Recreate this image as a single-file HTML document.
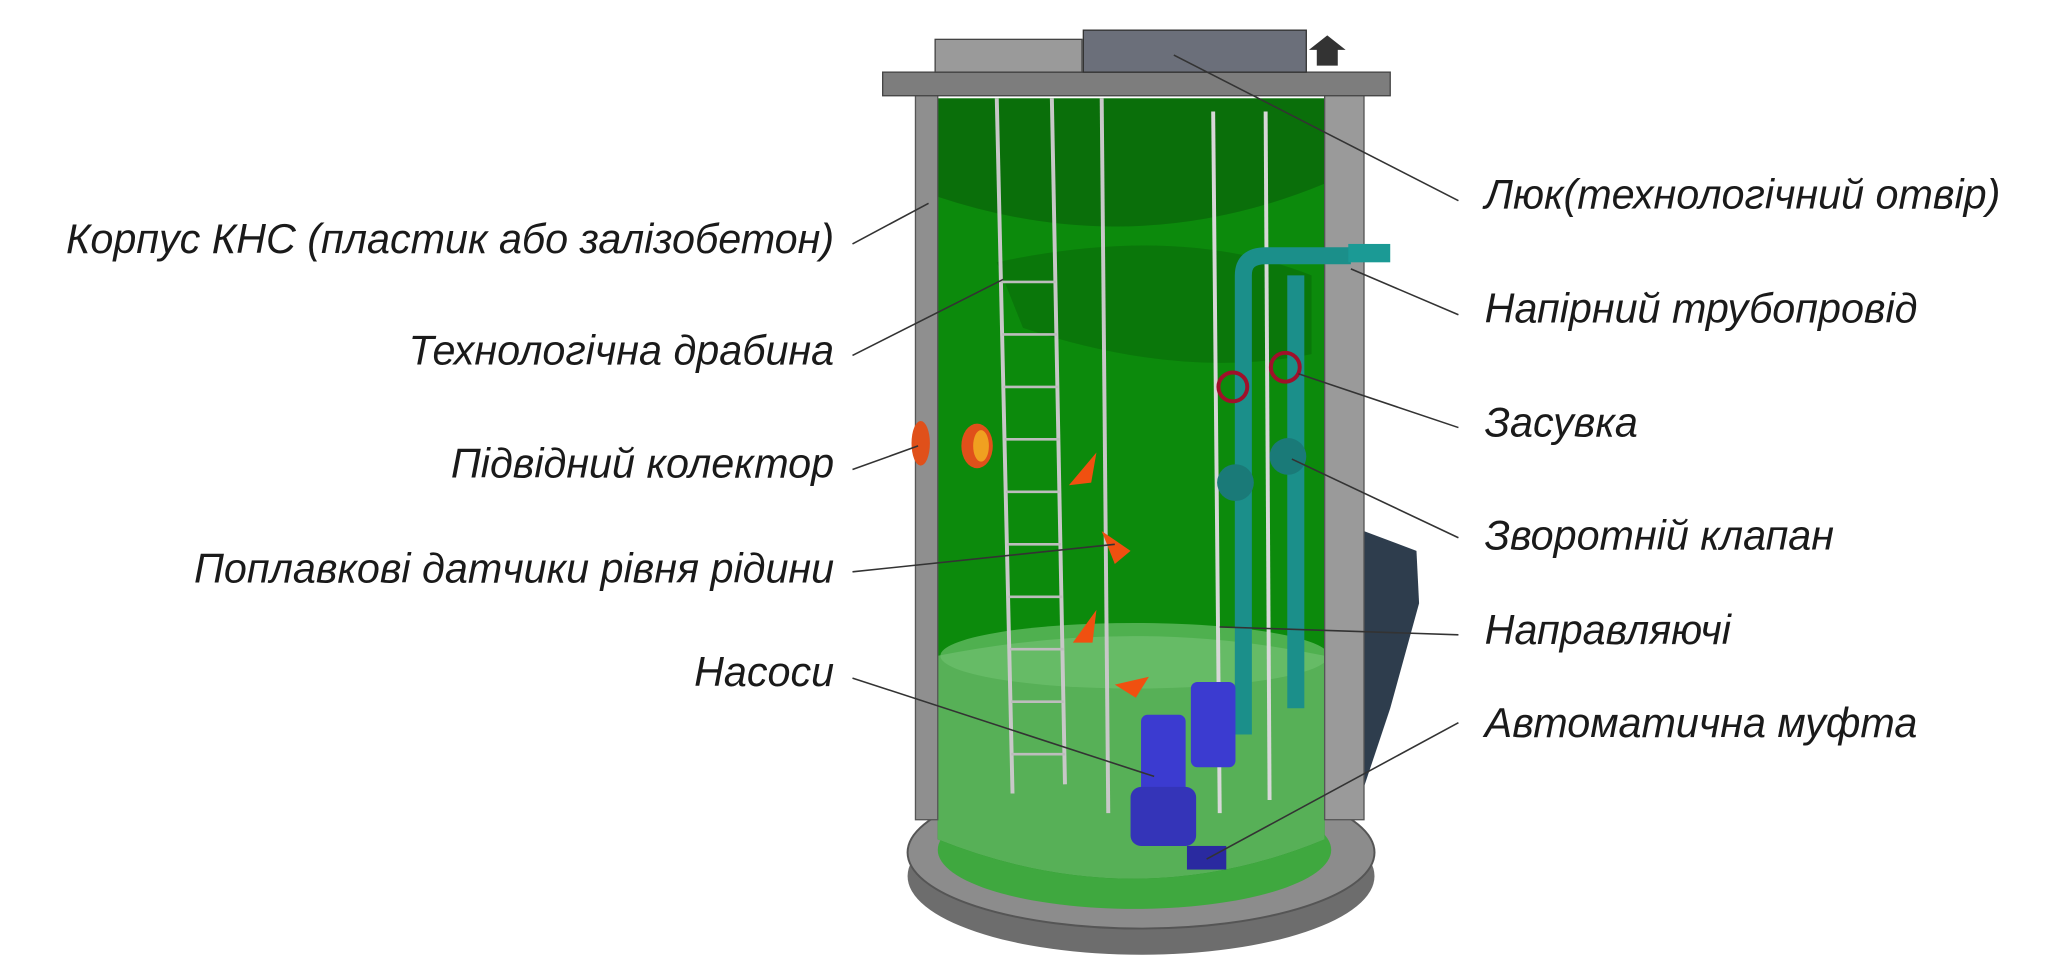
<!DOCTYPE html>
<html><head><meta charset="utf-8">
<style>
html,body{margin:0;padding:0;background:#fff;}
svg{display:block;}
text{font-family:"Liberation Sans","DejaVu Sans",sans-serif;font-style:italic;font-size:31.5px;fill:#1a1a1a;}
</style></head>
<body>
<svg width="2046" height="975" viewBox="0 0 1560 743.4" preserveAspectRatio="none" xmlns="http://www.w3.org/2000/svg">
<path d="M1040 405 L1080 420 L1082 460 L1060 540 L1040 600 Z" fill="#2e3d4d"/>
<ellipse cx="870" cy="668" rx="178" ry="60" fill="#6d6d6d"/>
<ellipse cx="870" cy="650" rx="178" ry="58" fill="#8c8c8c" stroke="#555" stroke-width="1.5"/>
<ellipse cx="865" cy="648" rx="150" ry="45" fill="#3fa83f"/>
<path d="M715 75 L1010 75 L1010 640 Q865 700 715 640 Z" fill="#0c8a0c"/>
<path d="M715 75 L1010 75 L1010 140 Q865 200 715 150 Z" fill="#0a6f0a"/>
<path d="M760 200 Q900 170 1000 210 L1000 270 Q900 290 780 250 Z" fill="#0a770a"/>
<path d="M715 500 Q865 470 1010 500 L1010 640 Q865 700 715 640 Z" fill="#5fb45f" opacity="0.9"/>
<ellipse cx="865" cy="500" rx="148" ry="25" fill="#6cc06c" opacity="0.7"/>
<rect x="698" y="70" width="17" height="555" fill="#8f8f8f" stroke="#555"/>
<rect x="1010" y="70" width="30" height="555" fill="#9a9a9a" stroke="#555"/>
<rect x="673" y="55" width="387" height="18" fill="#7d7d7d" stroke="#444"/>
<rect x="713" y="30" width="112" height="25" fill="#9a9a9a" stroke="#444"/>
<rect x="826" y="23" width="170" height="32" fill="#6b6f7a" stroke="#333"/>
<path d="M1004 50 L1004 38 L998 38 L1012 27 L1026 38 L1020 38 L1020 50 Z" fill="#333"/>
<g stroke="#c8c8c8" stroke-width="3">
<line x1="760" y1="75" x2="772" y2="605"/><line x1="802" y1="75" x2="812" y2="598"/>
<line x1="840" y1="75" x2="845" y2="620"/>
</g>
<g stroke="#bdbdbd" stroke-width="2">
<line x1="763" y1="215" x2="805" y2="215"/><line x1="764" y1="255" x2="806" y2="255"/><line x1="765" y1="295" x2="807" y2="295"/><line x1="766" y1="335" x2="808" y2="335"/><line x1="767" y1="375" x2="808" y2="375"/><line x1="768" y1="415" x2="809" y2="415"/><line x1="769" y1="455" x2="810" y2="455"/><line x1="770" y1="495" x2="811" y2="495"/><line x1="771" y1="535" x2="811" y2="535"/><line x1="771" y1="575" x2="812" y2="575"/>
</g>
<g stroke="#d8d8d8" stroke-width="3"><line x1="925" y1="85" x2="930" y2="620"/><line x1="965" y1="85" x2="968" y2="610"/></g>
<g fill="none" stroke="#1b8f8a" stroke-width="13">
<path d="M948 560 L948 210 Q948 195 965 195 L1030 195"/>
<path d="M988 540 L988 210"/>
</g>
<rect x="1028" y="186" width="32" height="14" fill="#1b9a95"/>
<circle cx="940" cy="295" r="11" fill="none" stroke="#a0102a" stroke-width="3"/>
<circle cx="980" cy="280" r="11" fill="none" stroke="#a0102a" stroke-width="3"/>
<circle cx="942" cy="368" r="14" fill="#1a7a78"/><circle cx="982" cy="348" r="14" fill="#1a7a78"/>
<ellipse cx="702" cy="338" rx="7" ry="17" fill="#e0501a"/>
<ellipse cx="745" cy="340" rx="12" ry="17" fill="#e0501a"/>
<ellipse cx="748" cy="340" rx="6" ry="12" fill="#f0a020"/>
<path d="M815 370 L836 345 L832 368 Z" fill="#f05010"/>
<path d="M840 405 L862 420 L850 430 Z" fill="#f05010"/>
<path d="M818 490 L836 465 L833 490 Z" fill="#f05010"/>
<path d="M850 522 L876 516 L866 532 Z" fill="#f05010"/>
<rect x="870" y="545" width="34" height="60" rx="5" fill="#3b3bd0"/>
<rect x="862" y="600" width="50" height="45" rx="8" fill="#3434b8"/>
<rect x="908" y="520" width="34" height="65" rx="5" fill="#3b3bd0"/>
<rect x="905" y="645" width="30" height="18" fill="#2a2aa0"/>
<g stroke="#333" stroke-width="1.2">
<line x1="650" y1="186" x2="708" y2="155"/>
<line x1="650" y1="271" x2="765" y2="213"/>
<line x1="650" y1="358" x2="700" y2="340"/>
<line x1="650" y1="436" x2="850" y2="415"/>
<line x1="650" y1="517" x2="880" y2="592"/>
<line x1="1112" y1="153" x2="895" y2="42"/>
<line x1="1112" y1="240" x2="1030" y2="205"/>
<line x1="1112" y1="326" x2="990" y2="285"/>
<line x1="1112" y1="410" x2="985" y2="350"/>
<line x1="1112" y1="484" x2="930" y2="478"/>
<line x1="1112" y1="551" x2="920" y2="655"/>
</g>
<g text-anchor="end">
<text x="636" y="193">Корпус КНС (пластик або залізобетон)</text>
<text x="636" y="278">Технологічна драбина</text>
<text x="636" y="364">Підвідний колектор</text>
<text x="636" y="444">Поплавкові датчики рівня рідини</text>
<text x="636" y="523">Насоси</text>
</g>
<text x="1132" y="159">Люк(технологічний отвір)</text>
<text x="1132" y="246">Напірний трубопровід</text>
<text x="1132" y="333">Засувка</text>
<text x="1132" y="419">Зворотній клапан</text>
<text x="1132" y="491">Направляючі</text>
<text x="1132" y="562">Автоматична муфта</text>
</svg>
</body></html>
